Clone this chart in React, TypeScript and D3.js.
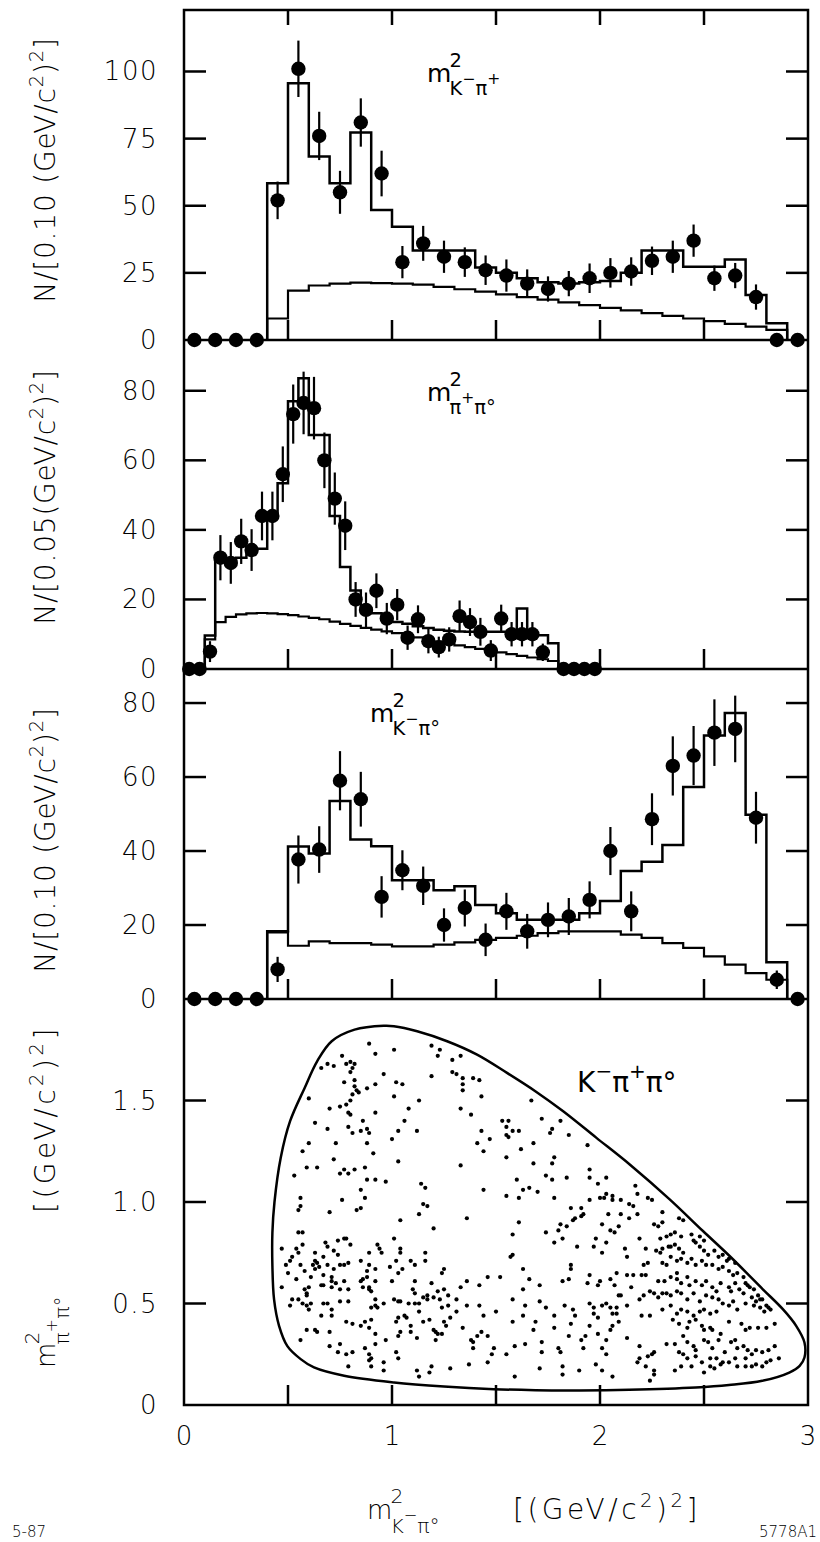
import React from 'react';
import * as d3 from 'd3';

const FONT = '"DejaVu Sans", "Noto Sans", sans-serif';

// ---------- shared x axis ----------
const xTickVals = [0.5, 1, 1.5, 2, 2.5];
const xTickLabels = ['0', '1', '2', '3'];
const xLabelVals = [0, 1, 2, 3];

// ---------- panel 1 : m^2(K- pi+) ----------
const p1X = [0.05,0.15,0.25,0.35,0.45,0.55,0.65,0.75,0.85,0.95,1.05,1.15,1.25,1.35,1.45,1.55,1.65,1.75,1.85,1.95,2.05,2.15,2.25,2.35,2.45,2.55,2.65,2.75,2.85,2.95];
const p1Y = [0,0,0,0,52,101,76,55,81,62,29,36,31,29,26,24,21,19,21,23,25,25.5,29.5,31,37,23,24,16,0,0];
const p1Err = [0,0,0,0,7,10.5,9,8,9,8.5,6,6.5,6,5.5,5.5,6,5.3,4.7,4.7,5.5,5.5,5.3,5.3,6,6,4.7,4.7,4.7,0,0];
const p1HistStart = 0.4;
const p1HistWidth = 0.1;
const p1Hist = [58.4,95.6,68.3,58.4,77.3,48.4,42.2,33.3,33.3,33.3,27,25,23,21.5,21,21.5,22,25,33.3,33.3,27.3,27.3,30,16.8,6.2];
const p1Bg = [8,18.4,20.3,21,21.4,21.2,21,20.6,19.8,18.9,18,17,16,15,14,13,12,11,10,9,8,7,6,5,3.8];
const p1Ticks = [0, 25, 50, 75, 100];

// ---------- panel 2 : m^2(pi+ pi0) ----------
const p2X = [0.025,0.075,0.125,0.175,0.225,0.275,0.325,0.375,0.425,0.475,0.525,0.575,0.625,0.675,0.725,0.775,0.825,0.875,0.925,0.975,1.025,1.075,1.125,1.175,1.225,1.275,1.325,1.375,1.425,1.475,1.525,1.575,1.625,1.675,1.725,1.825,1.875,1.925,1.975];
const p2Y = [0,0,5,32,30.5,36.7,34.2,44,44,56,73.3,76.5,75,60,49,41.2,20,17,22.5,14.5,18.5,9,14.3,8,6.3,8.5,15.2,13.5,10.7,5.3,14.5,10,10,10,4.8,0,0,0,0];
const p2Err = [0,0,3,6.5,6,6.5,6,7,7,8,8.5,9,9,8,7.5,7,5,5,5,4.5,4.5,3.5,4,3.5,3,3.5,4.5,4,4,3,4,3.5,3.5,3.5,2.5,0,0,0,0];
const p2HistStart = 0.1;
const p2HistWidth = 0.05;
const p2Hist = [9.6,31.3,31,32,34.6,34.6,44.7,53.4,77,83.6,67.3,67.3,44,29.3,22.6,17.5,16,14.5,13.5,13,12.3,11.8,11.3,11,10.8,10.7,10.7,10.7,10.7,10.7,17.4,9.7,9.7,7.4];
const p2Bg = [8.5,13.5,15,15.7,16,16.1,16,15.8,15.5,15.1,14.7,14.3,13.6,13,12.4,11.8,11.3,10.8,10.3,9.7,9.1,8.5,7.9,7.3,6.8,6.3,5.8,5.3,4.8,4.3,3.8,3.3,2.8,2.3];
const p2Ticks = [0, 20, 40, 60, 80];

// ---------- panel 3 : m^2(K- pi0) ----------
const p3X = [0.05,0.15,0.25,0.35,0.45,0.55,0.65,0.75,0.85,0.95,1.05,1.15,1.25,1.35,1.45,1.55,1.65,1.75,1.85,1.95,2.05,2.15,2.25,2.35,2.45,2.55,2.65,2.75,2.85,2.95];
const p3Y = [0,0,0,0,8,37.7,40.4,59,54,27.6,34.8,30.6,20,24.6,16,23.7,18.3,21.4,22.3,26.8,40,23.7,48.6,63,65.8,72,73,49,5.2,0];
const p3Err = [0,0,0,0,3.4,6.5,6.3,8,7.4,5.6,5.4,5.2,4.5,5,4.4,5,4.7,4.7,5,5,6.5,5.4,7,8,8,9,9,7,2.5,0];
const p3HistStart = 0.4;
const p3HistWidth = 0.1;
const p3Hist = [18.3,41.2,39.3,53.5,43.1,41.3,32.1,32.1,29.4,30.5,25.4,23.2,21.4,21.4,21.4,23.2,26.5,34.6,37.1,41.6,57.3,71.2,77.3,49.8,9.9];
const p3Bg = [18,14.4,15.6,15.1,15.1,14.7,14.2,14.2,14.7,15.3,16,16.5,17.1,17.8,18.3,18.3,18.3,17.4,16.5,15.1,13.8,11.5,9.3,7,5.2];
const p3Ticks = [0, 20, 40, 60, 80];

// ---------- panel 4 : Dalitz plot ----------
const p4Ticks = [0, 0.5, 1.0, 1.5];
const dalitzBoundary: [number, number][] = [
  [0.96,1.868],[0.82,1.849],[0.71,1.792],[0.64,1.693],[0.58,1.562],[0.51,1.398],[0.465,1.218],[0.435,1.0],[0.425,0.85],[0.425,0.685],[0.433,0.52],[0.457,0.39],[0.497,0.29],[0.561,0.226],[0.625,0.185],[0.77,0.144],[1.01,0.111],[1.25,0.091],[1.49,0.078],[1.69,0.073],[1.9,0.072],[2.14,0.075],[2.46,0.086],[2.62,0.098],[2.78,0.119],[2.91,0.16],[2.96,0.193],[2.983,0.234],[2.983,0.308],[2.943,0.39],[2.879,0.472],[2.783,0.57],[2.623,0.734],[2.495,0.857],[2.335,1.013],[2.143,1.185],[1.983,1.316],[1.823,1.447],[1.689,1.546],[1.553,1.636],[1.409,1.726],[1.265,1.792],[1.121,1.841],[1.009,1.866]
];
const dalitzEvents: [number, number][] = [
  [0.89,1.78],[1.01,1.75],[1.19,1.77],[1.23,1.75],[1.22,1.72],[0.76,1.72],[0.92,1.73],[1.29,1.70],[1.33,1.72],[0.66,1.66],[0.69,1.68],[0.72,1.67],[0.78,1.68],[0.80,1.69],[0.82,1.68],[0.81,1.66],[0.80,1.64],[0.96,1.63],[1.19,1.62],[1.29,1.64],[1.31,1.63],[1.34,1.61],[1.39,1.61],[1.42,1.60],[1.34,1.58],[1.34,1.55],[0.77,1.59],[0.82,1.60],[0.82,1.57],[0.83,1.55],[0.81,1.53],[0.84,1.54],[0.88,1.56],[0.92,1.58],[1.02,1.59],[1.05,1.58],[1.01,1.52],[1.13,1.50],[1.43,1.52],[0.60,1.51],[0.80,1.50],[0.78,1.48],[0.75,1.47],[0.70,1.46],[0.79,1.44],[0.80,1.43],[0.92,1.44],[1.08,1.46],[1.33,1.46],[1.38,1.43],[1.67,1.50],[0.63,1.39],[0.69,1.36],[0.79,1.37],[0.86,1.40],[0.88,1.36],[0.85,1.35],[0.81,1.34],[0.89,1.34],[1.06,1.40],[1.03,1.35],[1.12,1.35],[1.53,1.40],[1.56,1.40],[1.55,1.37],[1.55,1.33],[1.56,1.32],[1.58,1.35],[1.61,1.35],[1.43,1.35],[1.47,1.31],[1.41,1.29],[1.44,1.25],[0.60,1.29],[0.73,1.29],[0.88,1.29],[1.00,1.31],[1.62,1.26],[1.68,1.29],[0.57,1.25],[0.72,1.21],[0.91,1.24],[1.03,1.20],[1.55,1.22],[1.68,1.19],[1.33,1.18],[0.59,1.17],[0.64,1.17],[0.75,1.14],[0.77,1.16],[0.79,1.14],[0.82,1.16],[0.87,1.17],[0.53,1.13],[0.88,1.11],[0.92,1.11],[0.97,1.10],[1.14,1.09],[1.16,1.07],[0.85,1.06],[1.60,1.11],[1.66,1.07],[1.63,1.06],[1.44,1.06],[0.56,1.02],[0.76,1.01],[0.87,1.02],[1.55,1.03],[1.61,1.02],
  [1.72,1.41],[1.81,1.40],[1.77,1.36],[1.76,1.34],[1.85,1.33],[1.94,1.28],[1.78,1.22],[1.77,1.19],[1.95,1.16],[1.74,1.13],[1.77,1.11],[1.84,1.12],[1.95,1.12],[2.03,1.12],[1.99,1.09],[2.17,1.08],[1.70,1.05],[2.18,1.04],[2.03,1.04],[2.02,1.02],[2.06,1.03],[2.06,1.01],[2.00,1.02],[1.78,1.02],[1.95,1.01],[2.23,1.02],[2.25,1.01],[2.10,1.01],[2.14,0.99],
  [0.85,0.97],[0.83,0.96],[1.15,0.99],[1.17,0.98],[0.55,0.96],[0.70,0.95],[0.56,0.98],[1.13,0.94],[1.04,0.91],[1.36,0.92],[1.61,0.90],[1.20,0.87],[0.55,0.85],[0.57,0.85],[1.58,0.84],[1.01,0.82],[0.47,0.77],[0.54,0.77],[0.57,0.79],[0.68,0.80],[0.69,0.78],[0.74,0.81],[0.77,0.82],[0.78,0.82],[0.80,0.79],[0.93,0.79],[0.94,0.77],[1.04,0.77],[1.04,0.75],[0.55,0.75],[0.51,0.71],[0.52,0.73],[0.63,0.75],[0.67,0.73],[0.72,0.76],[0.74,0.74],[0.89,0.75],[0.95,0.75],[1.16,0.75],[1.58,0.74],[1.57,0.73],[0.49,0.69],[0.56,0.69],[0.58,0.66],[0.62,0.69],[0.63,0.71],[0.64,0.70],[0.65,0.68],[0.63,0.67],[0.69,0.69],[0.72,0.67],[0.75,0.69],[0.77,0.69],[0.79,0.70],[0.85,0.71],[0.89,0.69],[0.92,0.67],[0.88,0.66],[0.99,0.68],[1.02,0.71],[1.03,0.65],[1.05,0.67],[1.09,0.71],[1.11,0.69],[1.16,0.71],[1.25,0.67],[1.24,0.65],[1.63,0.67],[0.50,0.65],[0.54,0.62],[0.61,0.63],[0.67,0.64],[0.71,0.63],[0.71,0.61],[0.77,0.61],[0.85,0.61],[0.86,0.62],[0.88,0.63],[0.92,0.61],[1.00,0.61],[1.11,0.61],[1.19,0.60],[1.33,0.58],[1.36,0.61],[1.42,0.59],[1.46,0.63],[1.52,0.63],[1.66,0.62],[0.47,0.58],[0.58,0.57],[0.59,0.55],[0.60,0.58],[0.59,0.54],[0.66,0.59],[0.67,0.59],[0.71,0.58],[0.73,0.60],[0.75,0.57],[0.79,0.57],[0.86,0.58],[0.89,0.57],[0.90,0.56],[0.89,0.58],[1.10,0.57],[1.11,0.55],[1.15,0.53],[1.17,0.54],[1.20,0.53],[1.22,0.56],[1.25,0.57],[1.27,0.54],[1.31,0.52],[1.63,0.57],[0.52,0.52],[0.55,0.52],[0.57,0.50],[0.59,0.49],[0.61,0.50],[0.67,0.50],[0.69,0.50],[0.75,0.51],[0.79,0.51],[0.92,0.52],[1.01,0.52],[1.03,0.51],[1.04,0.51],[1.08,0.50],[1.11,0.50],[1.13,0.50],[1.17,0.52],[1.23,0.52],[1.58,0.52],[0.51,0.49],[0.60,0.47],[0.71,0.47],[0.90,0.48],[0.92,0.49],[0.93,0.48],[0.96,0.50],[1.13,0.46],[1.24,0.48],[1.27,0.49],[1.31,0.46],[1.36,0.49],[1.42,0.49],[1.64,0.49],[0.66,0.44],[0.71,0.44],[0.78,0.41],[0.81,0.40],[0.85,0.39],[0.87,0.41],[0.90,0.42],[1.02,0.41],[1.03,0.43],[1.06,0.44],[1.07,0.43],[1.09,0.39],[1.15,0.41],[1.18,0.42],[1.25,0.41],[1.26,0.39],[1.34,0.38],[1.44,0.44],[1.50,0.46],[1.58,0.41],[1.63,0.44],[0.59,0.37],[0.63,0.37],[0.64,0.36],[0.70,0.36],[0.89,0.38],[0.92,0.35],[1.04,0.36],[1.09,0.36],[1.20,0.37],[1.21,0.36],[1.22,0.35],[1.24,0.35],[1.28,0.43],[1.38,0.32],[1.39,0.31],[1.41,0.34],[1.43,0.36],[1.46,0.34],[0.56,0.32],[0.70,0.29],[0.75,0.30],[0.87,0.28],[0.92,0.30],[0.97,0.32],[1.03,0.34],[1.12,0.33],[1.21,0.32],[1.39,0.28],[1.49,0.28],[1.59,0.29],[1.64,0.30],[0.74,0.26],[0.78,0.25],[0.81,0.26],[0.89,0.25],[0.90,0.23],[0.89,0.22],[1.02,0.26],[1.03,0.23],[1.48,0.25],[1.55,0.25],[0.79,0.19],[0.90,0.19],[0.96,0.21],[0.96,0.17],[1.19,0.19],[1.12,0.17],[1.13,0.14],[1.18,0.16],[1.28,0.18],[1.37,0.20],[1.46,0.21],[1.59,0.14],
  [1.86,0.97],[1.91,0.97],[2.16,0.98],[1.87,0.91],[1.88,0.92],[1.91,0.93],[1.92,0.94],[2.04,0.94],[2.10,0.94],[2.14,0.92],[2.18,0.94],[2.30,0.95],[2.26,0.89],[2.28,0.88],[2.30,0.90],[2.38,0.92],[2.40,0.91],[1.81,0.89],[1.80,0.86],[1.84,0.88],[1.74,0.85],[1.82,0.82],[1.78,0.80],[2.01,0.89],[2.05,0.86],[2.07,0.85],[2.09,0.88],[1.98,0.82],[2.03,0.80],[2.19,0.82],[2.29,0.82],[2.32,0.83],[2.34,0.84],[2.36,0.85],[2.39,0.83],[2.44,0.84],[2.48,0.83],[2.50,0.81],[1.89,0.78],[1.97,0.78],[2.01,0.75],[2.12,0.77],[2.22,0.77],[2.27,0.76],[2.29,0.75],[2.30,0.77],[2.33,0.78],[2.34,0.78],[2.36,0.79],[2.38,0.77],[2.40,0.75],[2.45,0.81],[2.46,0.80],[2.48,0.78],[2.50,0.76],[2.52,0.74],[2.55,0.76],[2.57,0.73],[2.59,0.74],[2.61,0.71],[2.62,0.72],[2.65,0.70],[2.13,0.73],[2.21,0.69],[2.23,0.70],[2.30,0.70],[2.32,0.69],[2.34,0.73],[2.37,0.71],[2.39,0.72],[2.42,0.70],[2.44,0.72],[2.46,0.69],[2.49,0.71],[2.51,0.69],[2.54,0.69],[2.57,0.67],[2.59,0.68],[2.62,0.66],[2.64,0.64],[2.66,0.65],[2.69,0.63],[2.70,0.60],[2.72,0.58],[2.74,0.57],[2.76,0.54],[2.78,0.52],[1.86,0.69],[1.86,0.67],[1.82,0.61],[1.85,0.62],[1.95,0.64],[2.00,0.61],[2.05,0.62],[2.08,0.65],[2.13,0.64],[2.16,0.64],[2.20,0.64],[2.22,0.64],[2.28,0.61],[2.31,0.61],[2.34,0.63],[2.37,0.65],[2.37,0.62],[2.39,0.60],[2.42,0.63],[2.43,0.59],[2.46,0.61],[2.49,0.59],[2.51,0.61],[2.54,0.58],[2.56,0.56],[2.58,0.60],[2.62,0.58],[2.63,0.56],[2.65,0.60],[2.67,0.57],[2.69,0.55],[2.71,0.59],[2.73,0.53],[2.75,0.51],[2.77,0.52],[2.80,0.49],[2.82,0.47],[1.71,0.59],[1.94,0.60],[1.99,0.59],[2.07,0.59],[2.15,0.58],[2.19,0.52],[2.21,0.54],[2.24,0.56],[2.26,0.55],[2.28,0.53],[2.30,0.55],[2.32,0.55],[2.34,0.54],[2.37,0.56],[2.39,0.55],[2.42,0.52],[2.45,0.55],[2.48,0.51],[2.51,0.54],[2.54,0.53],[2.57,0.52],[2.59,0.50],[2.62,0.49],[2.64,0.51],[2.66,0.47],[2.70,0.50],[2.74,0.49],[2.77,0.48],[2.79,0.46],[2.81,0.48],[2.09,0.54],[2.10,0.54],[1.95,0.50],[1.97,0.48],[2.01,0.49],[2.03,0.50],[2.05,0.48],[2.08,0.48],[2.13,0.49],[1.71,0.51],[1.74,0.48],[1.83,0.49],[1.87,0.47],[2.20,0.44],[2.24,0.44],[2.30,0.47],[2.34,0.49],[2.37,0.45],[2.39,0.47],[2.42,0.46],[2.45,0.44],[2.48,0.46],[2.50,0.47],[2.53,0.45],[2.56,0.46],[1.97,0.45],[1.99,0.43],[2.06,0.45],[2.08,0.45],[1.78,0.44],[1.88,0.44],[1.69,0.41],[1.78,0.38],[1.86,0.40],[1.95,0.39],[2.05,0.37],[2.06,0.39],[2.09,0.41],[2.13,0.33],[1.99,0.35],[1.93,0.34],[1.85,0.34],[2.35,0.42],[2.38,0.40],[2.42,0.38],[2.43,0.41],[2.46,0.42],[2.49,0.39],[2.50,0.37],[2.53,0.38],[2.54,0.37],[2.58,0.35],[2.62,0.41],[2.68,0.40],[2.70,0.37],[2.72,0.38],[2.76,0.38],[2.80,0.38],[2.84,0.40],[1.68,0.37],[1.72,0.31],[1.72,0.26],[1.80,0.28],[1.81,0.26],[1.91,0.32],[1.92,0.28],[2.01,0.28],[2.03,0.32],[2.19,0.29],[2.32,0.30],[2.36,0.30],[2.38,0.26],[2.40,0.34],[2.42,0.31],[2.45,0.29],[2.46,0.27],[2.50,0.32],[2.52,0.31],[2.54,0.28],[2.57,0.32],[2.60,0.26],[2.63,0.31],[2.65,0.32],[2.66,0.28],[2.69,0.29],[2.71,0.27],[2.73,0.25],[2.75,0.27],[2.78,0.26],[2.81,0.27],[2.84,0.29],[2.86,0.23],[2.03,0.25],[2.19,0.23],[2.23,0.24],[2.25,0.25],[2.26,0.26],[2.40,0.25],[2.42,0.23],[2.46,0.24],[2.49,0.21],[2.53,0.23],[2.56,0.23],[2.59,0.21],[2.65,0.23],[2.70,0.23],[2.73,0.19],[2.75,0.20],[2.78,0.19],[2.80,0.21],[2.82,0.22],[1.71,0.18],[1.82,0.19],[1.82,0.15],[1.90,0.17],[1.98,0.20],[2.01,0.17],[2.06,0.14],[2.18,0.21],[2.22,0.19],[2.26,0.17],[2.26,0.15],[2.24,0.12],[2.36,0.17],[2.39,0.19],[2.44,0.19],[2.50,0.16],[2.53,0.19],[2.55,0.18],[2.58,0.20],[2.62,0.21],[2.66,0.19],[2.70,0.19]
];

// ---------- layout ----------
const W = 820;
const H = 1542;
const LEFT = 184;
const RIGHT = 808;
const xScale = d3.scaleLinear().domain([0, 3]).range([LEFT, RIGHT]);
const y1 = d3.scaleLinear().domain([0, 122.9]).range([340, 10]);
const y2 = d3.scaleLinear().domain([0, 94.6]).range([669, 340]);
const y3 = d3.scaleLinear().domain([0, 89.2]).range([999, 669]);
const y4 = d3.scaleLinear().domain([0, 2]).range([1405, 999]);

type Scale = d3.ScaleLinear<number, number>;

function stepPoints(start: number, width: number, vals: number[]): [number, number][] {
  const pts: [number, number][] = [[start, 0]];
  vals.forEach((v, i) => {
    pts.push([start + i * width, v]);
    pts.push([start + (i + 1) * width, v]);
  });
  pts.push([start + vals.length * width, 0]);
  return pts;
}

function StepLine({ y, start, width, vals, sw }: { y: Scale; start: number; width: number; vals: number[]; sw: number }) {
  const line = d3.line<[number, number]>().x(d => xScale(d[0])).y(d => y(d[1]));
  return <path d={line(stepPoints(start, width, vals)) || ''} fill="none" stroke="#000" strokeWidth={sw} strokeLinejoin="miter" />;
}

function Points({ y, xs, ys, errs }: { y: Scale; xs: number[]; ys: number[]; errs: number[] }) {
  return (
    <g>
      {xs.map((x, i) => (
        <g key={i}>
          {errs[i] > 0 && (
            <line x1={xScale(x)} x2={xScale(x)} y1={y(ys[i] - errs[i])} y2={y(ys[i] + errs[i])} stroke="#000" strokeWidth={2.2} />
          )}
          <circle cx={xScale(x)} cy={y(ys[i])} r={7.2} fill="#000" />
        </g>
      ))}
    </g>
  );
}

function YAxis({ y, ticks, fmt }: { y: Scale; ticks: number[]; fmt: (v: number) => string }) {
  return (
    <g>
      {ticks.filter(t => t !== 0).map((t, i) => (
        <g key={i}>
          <line x1={LEFT} x2={LEFT + 22} y1={y(t)} y2={y(t)} stroke="#000" strokeWidth={2.5} />
          <line x1={RIGHT - 22} x2={RIGHT} y1={y(t)} y2={y(t)} stroke="#000" strokeWidth={2.5} />
        </g>
      ))}
      {ticks.map((t, i) => (
        <text key={'l' + i} x={158} y={y(t)} textAnchor="end" dominantBaseline="central" fontSize={26} letterSpacing={1.5}>
          {fmt(t)}
        </text>
      ))}
      {xTickVals.map((v, i) => (
        <line key={'b' + i} x1={xScale(v)} x2={xScale(v)} y1={y(0)} y2={y(0) - 20} stroke="#000" strokeWidth={2.5} />
      ))}
    </g>
  );
}

type SubPart = [string, boolean];

function MassLabel({ x, y, fs, sub, weight }: { x: number; y: number; fs: number; sub: SubPart[]; weight?: number }) {
  const mw = fs * 0.9;
  const sfs = fs * 0.78;
  return (
    <g fontWeight={weight ?? 200}>
      <text x={x} y={y} fontSize={fs}>m</text>
      <text x={x + mw} y={y - fs * 0.62} fontSize={sfs}>2</text>
      <text x={x + mw} y={y + fs * 0.52} fontSize={sfs}>
        {sub.map(([t, raised], i) => {
          const prevRaised = i > 0 && sub[i - 1][1];
          const dy = raised && !prevRaised ? -sfs * 0.55 : !raised && prevRaised ? sfs * 0.55 : 0;
          return (
            <tspan key={i} dy={dy} fontSize={raised ? sfs * 0.8 : sfs}>
              {t}
            </tspan>
          );
        })}
      </text>
    </g>
  );
}

function UnitText({ prefix, fs }: { prefix: string; fs: number }) {
  const s = fs * 0.7;
  const r = fs * 0.42;
  return (
    <>
      <tspan>{prefix}</tspan>
      <tspan dy={-r} fontSize={s}>2</tspan>
      <tspan dy={r}>)</tspan>
      <tspan dy={-r} fontSize={s}>2</tspan>
      <tspan dy={r}>]</tspan>
    </>
  );
}

export default function App() {
  const boundaryLine = d3
    .line<[number, number]>()
    .x(d => xScale(d[0]))
    .y(d => y4(d[1]))
    .curve(d3.curveCatmullRomClosed.alpha(0.5));

  const fmtInt = (v: number) => String(v);
  const fmtDec = (v: number) => (v === 0 ? '0' : v.toFixed(1));

  return (
    <svg
      width={W}
      height={H}
      viewBox={`0 0 ${W} ${H}`}
      style={{ position: 'absolute', left: 0, top: 0, background: '#fff' }}
      fontFamily={FONT}
      fontWeight={200}
      fill="#000"
    >
      <rect x={0} y={0} width={W} height={H} fill="#fff" />

      {/* panel 1 */}
      <StepLine y={y1} start={p1HistStart} width={p1HistWidth} vals={p1Bg} sw={2.2} />
      <StepLine y={y1} start={p1HistStart} width={p1HistWidth} vals={p1Hist} sw={2.5} />
      <YAxis y={y1} ticks={p1Ticks} fmt={fmtInt} />
      {xTickVals.map((v, i) => (
        <line key={'t' + i} x1={xScale(v)} x2={xScale(v)} y1={10} y2={25} stroke="#000" strokeWidth={2.5} />
      ))}

      {/* panel 2 */}
      <StepLine y={y2} start={p2HistStart} width={p2HistWidth} vals={p2Bg} sw={2.2} />
      <StepLine y={y2} start={p2HistStart} width={p2HistWidth} vals={p2Hist} sw={2.5} />
      <YAxis y={y2} ticks={p2Ticks} fmt={fmtInt} />

      {/* panel 3 */}
      <StepLine y={y3} start={p3HistStart} width={p3HistWidth} vals={p3Bg} sw={2.2} />
      <StepLine y={y3} start={p3HistStart} width={p3HistWidth} vals={p3Hist} sw={2.5} />
      <YAxis y={y3} ticks={p3Ticks} fmt={fmtInt} />

      {/* panel 4 */}
      <YAxis y={y4} ticks={p4Ticks} fmt={fmtDec} />
      <path d={boundaryLine(dalitzBoundary) || ''} fill="none" stroke="#000" strokeWidth={2.5} />
      {dalitzEvents.map((d, i) => (
        <circle key={i} cx={xScale(d[0])} cy={y4(d[1])} r={2.1} fill="#000" />
      ))}

      {/* frame and separators */}
      <rect x={LEFT} y={y1.range()[1]} width={RIGHT - LEFT} height={y4(0) - y1.range()[1]} fill="none" stroke="#000" strokeWidth={2.5} />
      <line x1={LEFT} x2={RIGHT} y1={y1(0)} y2={y1(0)} stroke="#000" strokeWidth={2.5} />
      <line x1={LEFT} x2={RIGHT} y1={y2(0)} y2={y2(0)} stroke="#000" strokeWidth={2.5} />
      <line x1={LEFT} x2={RIGHT} y1={y3(0)} y2={y3(0)} stroke="#000" strokeWidth={2.5} />

      {/* data points on top */}
      <Points y={y1} xs={p1X} ys={p1Y} errs={p1Err} />
      <Points y={y2} xs={p2X} ys={p2Y} errs={p2Err} />
      <Points y={y3} xs={p3X} ys={p3Y} errs={p3Err} />

      {/* panel annotations */}
      <MassLabel x={427} y={82} fs={25} weight={400} sub={[['K', false], ['−', true], ['π', false], ['+', true]]} />
      <MassLabel x={427} y={401} fs={25} weight={400} sub={[['π', false], ['+', true], ['π', false], ['°', false]]} />
      <MassLabel x={370} y={722} fs={25} weight={400} sub={[['K', false], ['−', true], ['π', false], ['°', false]]} />
      <text x={577} y={1092} fontSize={28} fontWeight={400}>
        <tspan>K</tspan>
        <tspan dy={-14} fontSize={20}>−</tspan>
        <tspan dy={14}>π</tspan>
        <tspan dy={-14} fontSize={20}>+</tspan>
        <tspan dy={14}>π°</tspan>
      </text>

      {/* x tick labels */}
      {xLabelVals.map((v, i) => (
        <text key={'x' + i} x={xScale(v)} y={1445} textAnchor="middle" fontSize={26}>
          {xTickLabels[i]}
        </text>
      ))}

      {/* x axis title */}
      <MassLabel x={367} y={1519} fs={26} sub={[['K', false], ['−', true], ['π', false], ['°', false]]} />
      <text x={513} y={1519} fontSize={28} letterSpacing={3.5}>
        <UnitText prefix="[(GeV/c" fs={28} />
      </text>

      {/* y axis titles */}
      <text transform={`translate(55,170) rotate(-90)`} textAnchor="middle" fontSize={28} letterSpacing={0.8}>
        <UnitText prefix="N/[0.10 (GeV/c" fs={28} />
      </text>
      <text transform={`translate(55,497) rotate(-90)`} textAnchor="middle" fontSize={28} letterSpacing={0.8}>
        <UnitText prefix="N/[0.05(GeV/c" fs={28} />
      </text>
      <text transform={`translate(55,840) rotate(-90)`} textAnchor="middle" fontSize={28} letterSpacing={0.8}>
        <UnitText prefix="N/[0.10 (GeV/c" fs={28} />
      </text>
      <g transform={`translate(55,1368) rotate(-90)`}>
        <MassLabel x={0} y={0} fs={26} sub={[['π', false], ['+', true], ['π', false], ['°', false]]} />
        <text x={155} y={0} fontSize={28} letterSpacing={3.5}>
          <UnitText prefix="[(GeV/c" fs={28} />
        </text>
      </g>

      {/* corner codes */}
      <text x={12} y={1537} fontSize={15}>5-87</text>
      <text x={817} y={1537} fontSize={15} textAnchor="end">5778A1</text>
    </svg>
  );
}
